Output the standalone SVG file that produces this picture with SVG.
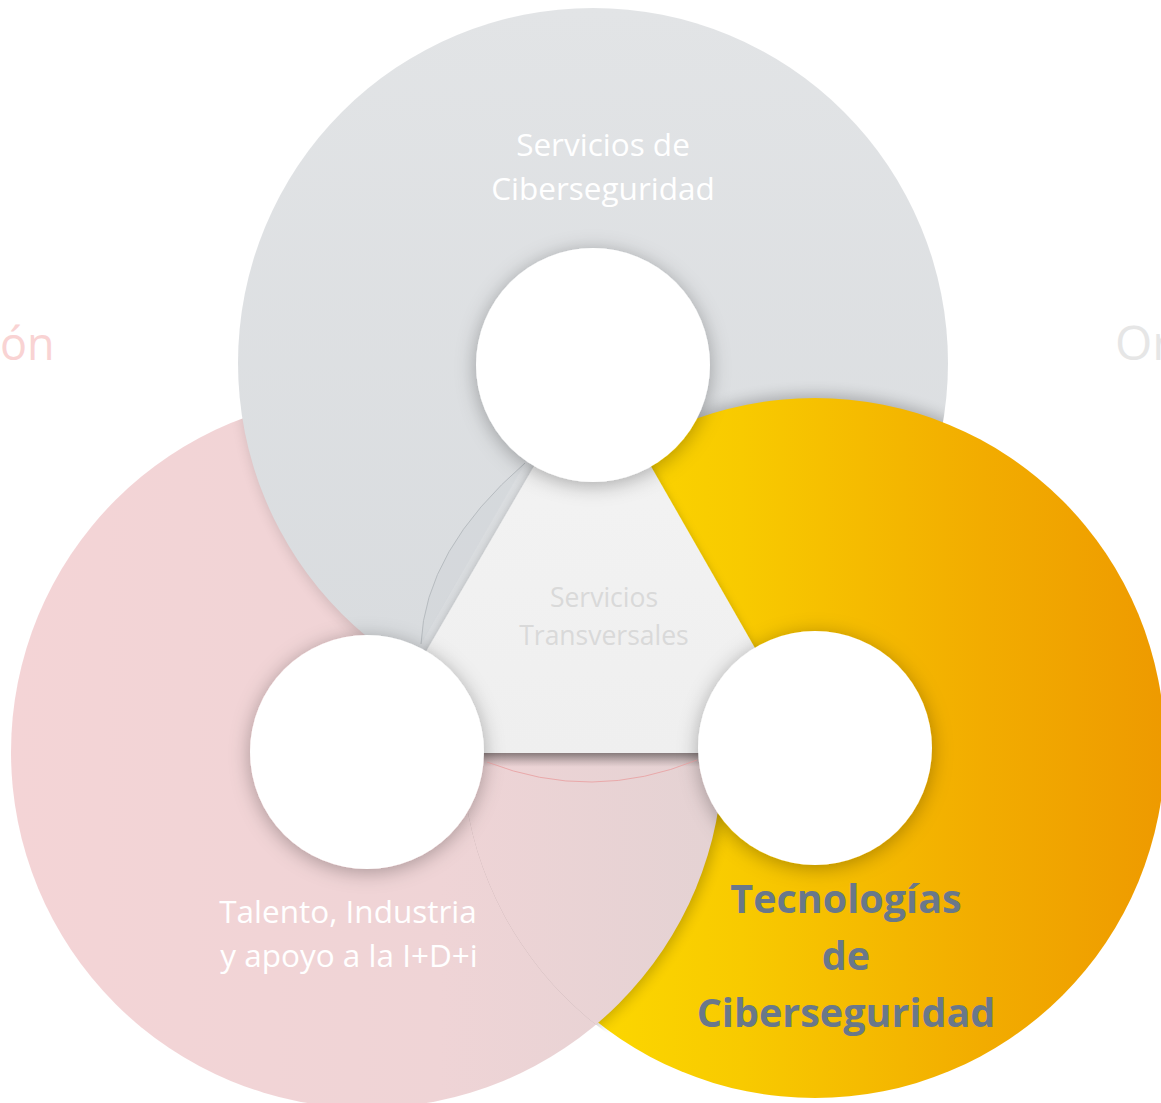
<svg xmlns="http://www.w3.org/2000/svg" width="1161" height="1103" viewBox="0 0 1161 1103">
<defs>
<style>
.lbl{font-family:"Open Sans","Liberation Sans",sans-serif;text-anchor:middle}
.white{fill:#ffffff}
.hole{fill:#ffffff;filter:url(#fHole)}
.shadow{fill:#000000;filter:url(#fBlur)}
</style>
<linearGradient id="gGray" x1="0" y1="0" x2="0" y2="1">
<stop offset="0" stop-color="#e2e4e6"/>
<stop offset="1" stop-color="#d8dbde"/>
</linearGradient>
<linearGradient id="gPink" gradientUnits="userSpaceOnUse" x1="11" y1="0" x2="723" y2="0">
<stop offset="0" stop-color="#f4d4d6"/>
<stop offset="0.6" stop-color="#efd4d6"/>
<stop offset="1" stop-color="#e4d2d3"/>
</linearGradient>
<linearGradient id="gYellow" gradientUnits="userSpaceOnUse" x1="560" y1="0" x2="1165" y2="0">
<stop offset="0" stop-color="#fdda00"/>
<stop offset="0.3" stop-color="#f8ca00"/>
<stop offset="0.7" stop-color="#f2ac00"/>
<stop offset="1" stop-color="#ee9a00"/>
</linearGradient>
<linearGradient id="gTri" x1="0" y1="0" x2="0" y2="1">
<stop offset="0" stop-color="#e6e6e6"/>
<stop offset="0.35" stop-color="#f2f2f2"/>
<stop offset="1" stop-color="#efefef"/>
</linearGradient>
<linearGradient id="gBand" x1="0" y1="0" x2="0" y2="1">
<stop offset="0" stop-color="#000" stop-opacity="0.28"/>
<stop offset="1" stop-color="#000" stop-opacity="0"/>
</linearGradient>
<filter id="fBlur" x="-20%" y="-20%" width="140%" height="140%">
<feGaussianBlur stdDeviation="7"/>
</filter>
<filter id="fHole" x="-40%" y="-40%" width="180%" height="180%">
<feDropShadow dx="0" dy="3" stdDeviation="10" flood-color="#000" flood-opacity="0.3"/>
</filter>
<filter id="fTri" x="-20%" y="-20%" width="140%" height="140%">
<feDropShadow dx="0" dy="3" stdDeviation="5" flood-color="#000" flood-opacity="0.25"/>
</filter>
<clipPath id="cGray"><circle cx="593" cy="363" r="355"/></clipPath>
<clipPath id="cPink"><circle cx="367" cy="752" r="356"/></clipPath>
<clipPath id="cYellow"><circle cx="815" cy="748" r="353"/></clipPath>
<clipPath id="cBelow"><rect x="0" y="752" width="1161" height="351"/></clipPath>
</defs>

<rect x="0" y="0" width="1161" height="1103" fill="#ffffff"/>

<g id="ghost-text">
<text x="0" y="360" font-family="'Open Sans','Liberation Sans',sans-serif" font-size="45" fill="#f9d3d3">ón</text>
<text x="1115" y="360" font-family="'Open Sans','Liberation Sans',sans-serif" font-size="48" fill="#e6e6e6">Or</text>
</g>

<g id="talento-ring">
<circle cx="367" cy="752" r="356" fill="url(#gPink)"/>
</g>

<g id="servicios-ring">
<g clip-path="url(#cPink)">
<circle class="shadow" cx="595" cy="368" r="355" opacity="0.14"/>
</g>
<circle cx="593" cy="363" r="355" fill="url(#gGray)"/>
<path d="M421,644 Q425,550 525,463 L421,644 Z" fill="#cfd3d6" opacity="0.45"/>
<path d="M421,644 Q425,550 525,463" fill="none" stroke="#b7bcc0" stroke-width="1"/>
</g>

<g id="tecnologias-ring">
<g clip-path="url(#cGray)">
<circle class="shadow" cx="815" cy="744" r="350" opacity="0.22"/>
</g>
<circle cx="815" cy="748" r="350" fill="url(#gYellow)"/>
</g>

<g id="talento-overlap">
<g clip-path="url(#cYellow)">
<g clip-path="url(#cBelow)">
<circle class="shadow" cx="371" cy="752" r="356" opacity="0.22"/>
<circle cx="367" cy="752" r="356" fill="url(#gPink)"/>
</g>
</g>
<rect x="470" y="753" width="240" height="14" fill="url(#gBand)"/>
</g>

<g id="transversales">
<polygon points="593,365 367,753 815,753" fill="url(#gTri)" filter="url(#fTri)"/>
</g>

<g id="connectors">
<path d="M487,762 Q592,803 697,760" fill="none" stroke="#e9a9aa" stroke-width="1"/>
</g>

<g id="hub-top"><circle class="hole" cx="593" cy="365" r="117"/></g>
<g id="hub-left"><circle class="hole" cx="367" cy="752" r="117"/></g>
<g id="hub-right"><circle class="hole" cx="815" cy="748" r="117"/></g>

<g id="labels">
<text class="lbl" x="603" y="156" font-size="31.5" fill="#ffffff">Servicios de</text>
<text class="lbl" x="603" y="200" font-size="31.5" fill="#ffffff">Ciberseguridad</text>
<text class="lbl" x="604" y="607" font-size="26.5" fill="#d9d9d9">Servicios</text>
<text class="lbl" x="604" y="645" font-size="26.5" fill="#d9d9d9">Transversales</text>
<text class="lbl" x="348" y="923" font-size="31.5" fill="#ffffff">Talento, Industria</text>
<text class="lbl" x="349" y="967" font-size="31.5" fill="#ffffff">y apoyo a la I+D+i</text>
<text class="lbl" x="846" y="913" font-size="39.5" font-weight="bold" fill="#69788a">Tecnologías</text>
<text class="lbl" x="846" y="970" font-size="39.5" font-weight="bold" fill="#69788a">de</text>
<text class="lbl" x="846" y="1027" font-size="39.5" font-weight="bold" fill="#69788a">Ciberseguridad</text>
</g>
</svg>
